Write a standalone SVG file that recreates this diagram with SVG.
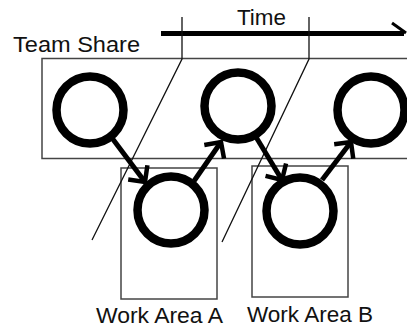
<svg xmlns="http://www.w3.org/2000/svg" width="407" height="327" viewBox="0 0 407 327">
  <defs>
    <style>
      .box { fill: none; stroke: #444; stroke-width: 1.5; }
      .thin { fill: none; stroke: #111; stroke-width: 1.3; }
      .node { fill: #fff; stroke: #000; stroke-width: 8.5; }
      .conn { fill: none; stroke: #000; stroke-width: 5; marker-end: url(#head); }
      .lbl { font-family: "Liberation Sans", Arial, sans-serif; font-size: 22px; fill: #111; }
    </style>
    <marker id="head" markerUnits="userSpaceOnUse" markerWidth="30" markerHeight="30" refX="0" refY="0" orient="auto" overflow="visible">
      <path d="M -12 -12 L 0 0 L -12 12" fill="none" stroke="#000" stroke-width="4.5"/>
    </marker>
  </defs>

  <g id="team-share">
    <rect class="box" x="42" y="58.5" width="380" height="100"/>
    <text class="lbl" x="13" y="52" textLength="127" lengthAdjust="spacingAndGlyphs">Team Share</text>
  </g>

  <g id="work-area-a">
    <rect class="box" x="121" y="168" width="96" height="131"/>
    <text class="lbl" x="96" y="323" textLength="127" lengthAdjust="spacingAndGlyphs">Work Area A</text>
  </g>

  <g id="work-area-b">
    <rect class="box" x="252" y="166" width="96" height="131"/>
    <text class="lbl" x="247" y="322" textLength="126" lengthAdjust="spacingAndGlyphs">Work Area B</text>
  </g>

  <g id="time-axis">
    <line x1="161" y1="33.5" x2="404" y2="33.5" stroke="#000" stroke-width="5"/>
    <path d="M 392 23 L 406 33" fill="none" stroke="#000" stroke-width="3"/>
    <text class="lbl" x="237" y="25" textLength="49" lengthAdjust="spacingAndGlyphs">Time</text>
    <polyline class="thin" points="182,17 182,59 92,240"/>
    <polyline class="thin" points="309,17 309,59 222,242"/>
  </g>

  <g id="n1"><circle class="node" cx="90" cy="110" r="33.5"/></g>
  <g id="n2"><circle class="node" cx="238" cy="106" r="33.5"/></g>
  <g id="n3"><circle class="node" cx="371" cy="110" r="33.5"/></g>
  <g id="n4"><circle class="node" cx="171" cy="210" r="33.5"/></g>
  <g id="n5"><circle class="node" cx="300" cy="211" r="33.5"/></g>

  <g id="connectors">
    <line class="conn" x1="112" y1="138" x2="145" y2="182"/>
    <line class="conn" x1="194" y1="181" x2="221" y2="142"/>
    <line class="conn" x1="256" y1="137" x2="282" y2="180"/>
    <line class="conn" x1="322" y1="180" x2="351" y2="142"/>
  </g>
</svg>
